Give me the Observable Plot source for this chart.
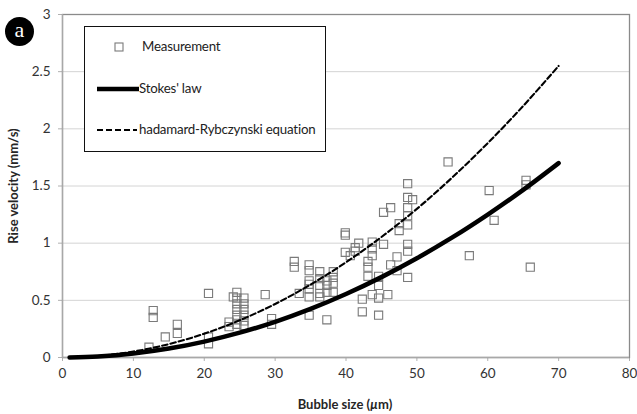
<!DOCTYPE html>
<html>
<head>
<meta charset="utf-8">
<script src="https://cdn.jsdelivr.net/npm/d3@7"></script>
<script src="https://cdn.jsdelivr.net/npm/@observablehq/plot@0.6"></script>
<style>
  html, body { margin: 0; padding: 0; background: #fff; }
  #wrap { position: relative; width: 637px; height: 414px; font-family: Lato, "Open Sans", sans-serif; }
  .ov { position: absolute; }
  .legtxt { position: absolute; font-size: 13.3px; color: #222; white-space: nowrap; font-family: Lato, sans-serif; letter-spacing: -0.2px; }
</style>
</head>
<body>
<div id="wrap"></div>
<script>
// Measurement points (bubble size µm, rise velocity mm/s)
const measX = [
  12.2, 12.8, 12.8, 14.5, 16.2, 16.2, 20.6, 20.6, 20.6, 23.5, 23.5, 24.1,
  24.6, 24.6, 24.6, 24.6, 24.6, 24.6, 24.6,
  25.6, 25.6, 25.6, 25.6, 25.6, 25.6,
  28.6, 29.5, 29.5, 32.7, 32.7, 33.4,
  34.8, 34.8, 34.8, 34.8, 34.8, 34.8, 34.8,
  36.3, 36.3, 36.3, 36.3, 36.3,
  37.3, 37.3, 37.3, 37.3,
  38.2, 38.2, 38.2, 38.2,
  39.9, 39.9, 39.9, 40.6, 41.3, 41.3, 41.8, 42.3, 42.3,
  43.1, 43.1, 43.1, 43.7, 43.7, 43.7, 43.7,
  44.6, 44.6, 44.6, 44.6, 45.3, 45.3, 45.9, 46.3, 46.3,
  47.2, 47.2, 47.5, 47.5,
  48.7, 48.7, 48.7, 48.7, 48.7, 48.7, 48.7, 48.7, 49.4,
  54.4, 57.4, 60.2, 60.9, 65.4, 65.4, 66.0
];
const measY = [
  0.09, 0.41, 0.35, 0.18, 0.29, 0.21, 0.56, 0.18, 0.12, 0.31, 0.27, 0.53,
  0.57, 0.52, 0.47, 0.42, 0.37, 0.33, 0.29,
  0.52, 0.47, 0.42, 0.37, 0.32, 0.28,
  0.55, 0.34, 0.29, 0.84, 0.79, 0.56,
  0.81, 0.76, 0.67, 0.64, 0.60, 0.53, 0.37,
  0.75, 0.69, 0.63, 0.56, 0.53,
  0.67, 0.63, 0.57, 0.33,
  0.75, 0.70, 0.65, 0.57,
  1.09, 1.07, 0.92, 0.89, 0.96, 0.93, 1.00, 0.51, 0.40,
  0.84, 0.79, 0.71, 1.01, 0.95, 0.89, 0.55,
  0.71, 0.63, 0.52, 0.37, 0.99, 1.27, 0.55, 1.31, 0.81,
  0.88, 0.76, 1.17, 1.11,
  1.52, 1.40, 1.31, 1.24, 1.16, 0.99, 0.93, 0.70, 1.38,
  1.71, 0.89, 1.46, 1.20, 1.55, 1.51, 0.79
];

// Curves
const curveX = [1, 5, 10, 15, 20, 25, 30, 35, 40, 45, 50, 55, 60, 65, 70];
const stokesY = [0.0, 0.009, 0.035, 0.078, 0.139, 0.217, 0.312, 0.425, 0.555, 0.703, 0.868, 1.05, 1.25, 1.466, 1.70];
const hadamardY = [0.0, 0.013, 0.052, 0.117, 0.208, 0.325, 0.468, 0.638, 0.833, 1.054, 1.30, 1.575, 1.875, 2.20, 2.55];

const xTicks = [0, 10, 20, 30, 40, 50, 60, 70, 80];
const yTicks = [0, 0.5, 1, 1.5, 2, 2.5, 3];
const yTickLabels = ["0", "0.5", "1", "1.5", "2", "2.5", "3"];
const legendLabels = ["Measurement", "Stokes' law", "hadamard-Rybczynski equation"];

const meas = measX.map((x, i) => ({x, y: measY[i]}));
const stokes = curveX.map((x, i) => ({x, y: stokesY[i]}));
const hadamard = curveX.map((x, i) => ({x, y: hadamardY[i]}));

const chart = Plot.plot({
  width: 637,
  height: 414,
  marginLeft: 62,
  marginRight: 8,
  marginTop: 14,
  marginBottom: 57,
  style: {fontFamily: "Lato, 'Open Sans', sans-serif", fontSize: "13px", background: "#fff"},
  x: {domain: [0, 80]},
  y: {domain: [0, 3]},
  marks: [
    Plot.gridY(yTicks.filter(d => d > 0 && d < 3), {stroke: "#d4d4d4", strokeOpacity: 1, strokeWidth: 1}),
    Plot.axisY(yTicks, {tickSize: 4, tickPadding: 8, stroke: "#b0b0b0", fill: "#333", label: null, tickFormat: (d) => yTickLabels[yTicks.indexOf(d)], fontSize: 13.5}),
    Plot.axisX(xTicks, {tickSize: 4, tickPadding: 7, stroke: "#b0b0b0", fill: "#333", label: null, fontSize: 13.5}),
    Plot.frame({stroke: "#8a8a8a", strokeWidth: 1.3}),
    Plot.ruleY([0], {stroke: "#a8a8a8", strokeWidth: 1.3}),
    Plot.ruleX([0], {stroke: "#a8a8a8", strokeWidth: 1.3}),
    Plot.dot(meas, {x: "x", y: "y", symbol: "square", r: 4.6, stroke: "#7a7a7a", strokeWidth: 1.1, fill: "white", fillOpacity: 0}),
    Plot.line(hadamard, {x: "x", y: "y", curve: "catmull-rom", stroke: "#000", strokeWidth: 2.1, strokeDasharray: "5.5,3"}),
    Plot.line(stokes, {x: "x", y: "y", curve: "catmull-rom", stroke: "#000", strokeWidth: 4.5})
  ]
});

const wrap = document.getElementById("wrap");
wrap.appendChild(chart);

// Axis titles
const yl = document.createElement("div");
yl.className = "ov";
yl.textContent = "Rise velocity (mm/s)";
yl.style.cssText = "left:13px;top:186px;transform:translate(-50%,-50%) rotate(-90deg);font-weight:bold;font-size:13px;color:#262626;white-space:nowrap;";
wrap.appendChild(yl);

const xl = document.createElement("div");
xl.className = "ov";
xl.innerHTML = "Bubble size (<i>µ</i>m)";
xl.style.cssText = "left:345px;top:404px;transform:translate(-50%,-50%);font-weight:bold;font-size:13px;color:#262626;white-space:nowrap;";
wrap.appendChild(xl);

// Badge "a"
const badge = document.createElement("div");
badge.className = "ov";
badge.textContent = "a";
badge.style.cssText = "left:5px;top:17px;width:29px;height:29px;border-radius:50%;background:#000;color:#fff;font-family:'Liberation Serif','DejaVu Serif',serif;font-size:22px;line-height:26px;text-align:center;";
wrap.appendChild(badge);

// Legend box
const leg = document.createElement("div");
leg.className = "ov";
leg.style.cssText = "left:84px;top:26px;width:240px;height:124px;border:1.5px solid #111;background:#fff;";
leg.innerHTML = `
<svg width="60" height="124" style="position:absolute;left:0;top:0">
  <rect x="30" y="16" width="8" height="8" fill="none" stroke="#7a7a7a" stroke-width="1.1"/>
  <line x1="12" y1="62" x2="54" y2="62" stroke="#000" stroke-width="4.5"/>
  <line x1="12" y1="103" x2="52" y2="103" stroke="#000" stroke-width="2.2" stroke-dasharray="6,3"/>
</svg>
<div class="legtxt" style="left:57px;top:11px">${legendLabels[0]}</div>
<div class="legtxt" style="left:54px;top:53px">${legendLabels[1]}</div>
<div class="legtxt" style="left:54px;top:94px">${legendLabels[2]}</div>`;
wrap.appendChild(leg);
</script>
</body>
</html>
